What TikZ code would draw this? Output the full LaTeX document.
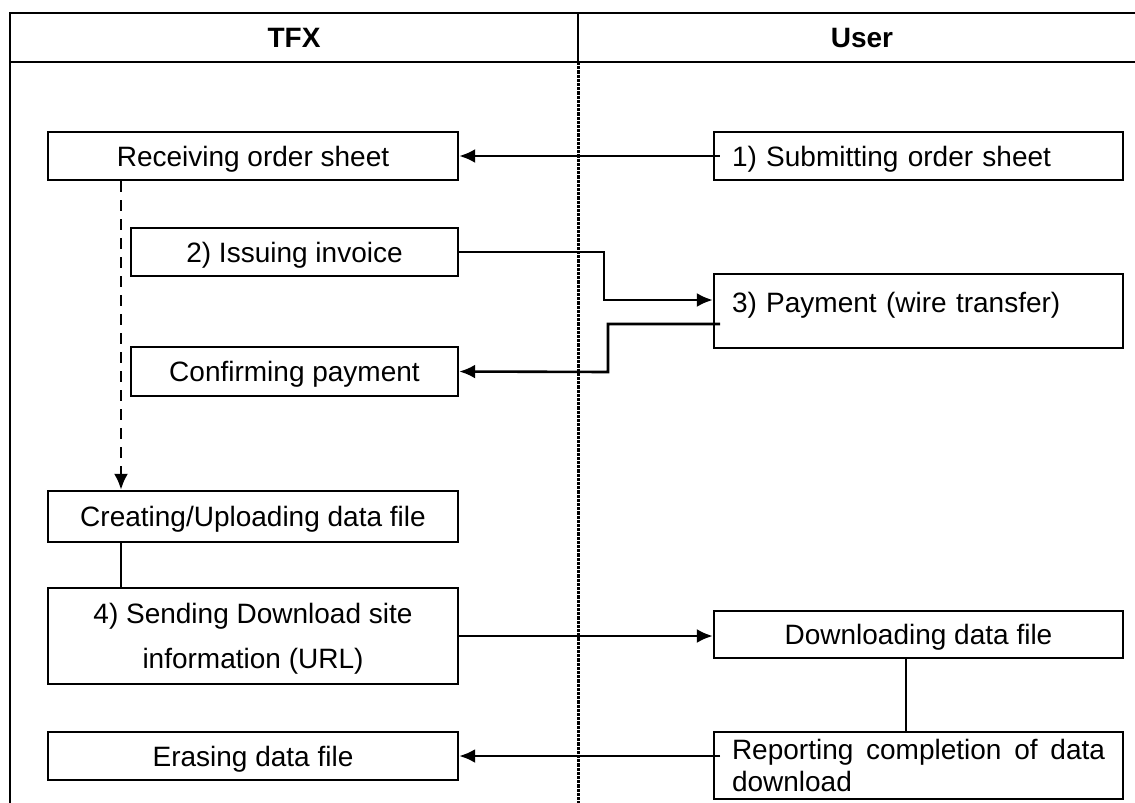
\documentclass[tikz,border=0pt]{standalone}
\usepackage{fontspec}
\setmainfont{Liberation Sans}
\usepackage{tikz}
\usetikzlibrary{arrows.meta}

\begin{document}
\begin{tikzpicture}[x=0.5pt,y=-0.5pt,
  box/.style={draw,line width=1.2pt,inner sep=0pt,font=\fontsize{14}{16}\selectfont},
  sbox/.style={box,text height=10pt,text depth=0pt},
  lbox/.style={box,text width=186.5pt,align=left,minimum width=204.5pt},
  head/.style={font=\fontsize{14}{16}\selectfont\bfseries},
  frame/.style={line width=1.2pt},
  divider/.style={line width=1.5pt,dash pattern=on 1.6pt off 0.5pt},
  arr/.style={-{Latex[length=8pt,width=7pt]},line width=1.3pt},
  dasharr/.style={arr,dash pattern=on 5.5pt off 4pt},
  conn/.style={line width=0.8pt}]
                      \useasboundingbox (0,0) rectangle (1135,803);
                      % table
                      \draw[frame] (10,803) -- (10,13) -- (1135,13);
                      \draw[frame] (10,62) -- (1135,62);
                      \draw[frame] (578,13) -- (578,62);
                      \draw[divider] (578,62) -- (578,803);
                      \node[head](tfx)at(294,38){TFX};
                      \node[head](usr)at(862,38){User};
                      % TFX side
                      \node[sbox,minimum width=205pt,minimum height=24pt](recv)at(253,156){Receiving order sheet};
                      \node[sbox,minimum width=163.5pt,minimum height=24pt](inv)at(294.5,252){2) Issuing invoice};
                      \node[sbox,minimum width=163.5pt,minimum height=24.5pt](conf)at(294.5,371.5){Confirming payment};
                      \node[sbox,minimum width=205pt,minimum height=25.5pt](crea)at(253,516.5){Creating/Uploading data file};
                      \node[box,minimum width=205pt,minimum height=48pt,align=center,text depth=0pt,
                            font=\fontsize{14}{22.5}\selectfont](send)at(253,636){4) Sending Download site\\information (URL)};
                      \node[sbox,minimum width=205pt,minimum height=24pt](erase)at(253,756){Erasing data file};
                      % User side
                      \node[lbox,minimum height=24pt,text height=10pt,text depth=0pt](subm)at(918.5,156){1) Submitting order sheet};
                      \node[lbox,minimum height=37pt,text height=19pt,text depth=18pt](pay)at(918.5,311){3) Payment (wire transfer)};
                      \node[sbox,minimum width=204.5pt,minimum height=23.5pt](down)at(918.5,634.5){Downloading data file};
                      \node[lbox,align=justify,minimum height=33.5pt](rep)at(918.5,765.5){Reporting completion of data download};
                      \coordinate(payout)at(720,324);
                      \coordinate(repout)at(720,756);
                      % connectors
                      \draw[arr]([xshift=3.5pt]subm.west)--(recv.east);
                      \draw[arr](inv.east)-|(604,300)--(pay.west |- 604,300);
                      \draw[arr](payout)-|(608,372)--(conf.east);
                      \draw[dasharr](recv.south -| 121,0)--(crea.north -| 121,0);
                      \draw[conn](crea.south -| 121,0)--(send.north -| 121,0);
                      \draw[arr](send.east)--(send.east -| down.west);
                      \draw[conn](down.south -| 906,0)--(rep.north -| 906,0);
                      \draw[arr](repout)--(erase.east);
                  \end{tikzpicture}
\end{document}
